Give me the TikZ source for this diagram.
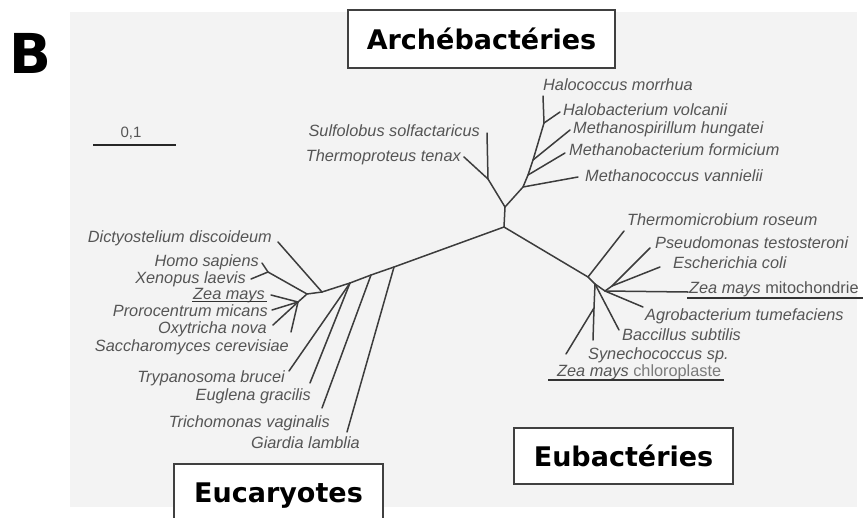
\documentclass[tikz,border=0pt]{standalone}
\usepackage{fontspec}
\setmainfont{Liberation Sans}
\newfontfamily\boxfont{DejaVu Sans}
\usetikzlibrary{calc}
\definecolor{panel}{HTML}{F3F3F3}
\definecolor{branch}{HTML}{3C3C3C}
\definecolor{lab}{HTML}{555555}
\definecolor{lablight}{HTML}{7A7A7A}
\begin{document}
\begin{tikzpicture}[x=1pt,y=-1pt,
  br/.style={draw=branch, line width=1.5pt, line cap=round, line join=round},
  spL/.style={anchor=base west, inner sep=0pt, yshift=-5.5pt, font=\fontsize{16.3}{18}\selectfont\itshape, text=lab},
  spR/.style={spL, anchor=base east},
  uline/.style={draw=black!80, line width=1.2pt},
  grpbox/.style={draw=black!75, line width=1.6pt, fill=white, font=\boxfont\bfseries\fontsize{27}{30}\selectfont, text height=20pt, text depth=0pt, inner sep=0pt}
]
\useasboundingbox (0,0) rectangle (867,517);
\fill[panel] (70,12) rectangle (857,507);

% panel letter
\node[font=\boxfont\bfseries\fontsize{55}{60}\selectfont, anchor=base, inner sep=0pt] (lblB) at (30,73) {B};

% group boxes
\node[grpbox, minimum width=267pt, minimum height=58pt] (arch) at (481.5,39) {Archébactéries};
\node[grpbox, minimum width=209pt, minimum height=56pt] (euc) at (278.5,492) {Eucaryotes};
\node[grpbox, minimum width=219pt, minimum height=56pt] (eub) at (623.5,456) {Eubactéries};

% scale bar
\coordinate (s0) at (93,145);
\coordinate (s1) at (176,145);
\draw[black!85, line width=1.5pt] (s0) -- (s1);
\node[font=\fontsize{15}{18}\selectfont, text=lab, anchor=base, inner sep=0pt] (sbl) at (131,137.5) {0,1};

% ---------- tree ----------
\coordinate (C) at (504,227);
% archaea
\coordinate (A0) at (505,207);
\coordinate (A1) at (488,179);
\coordinate (tSulf) at (487,133);
\coordinate (tTher) at (464,157);
\coordinate (A2) at (523,187);
\coordinate (A3) at (528,175);
\coordinate (A4) at (533,160);
\coordinate (A5) at (544,123);
\coordinate (tMcoc) at (578,177);
\coordinate (tMbac) at (565,153);
\coordinate (tMspi) at (570,130);
\coordinate (tHcoc) at (543,96);
\coordinate (tHbac) at (560,112);
\draw[br] (C) -- (A0) -- (A1) -- (tSulf);
\draw[br] (A1) -- (tTher);
\draw[br] (A0) -- (A2) -- (A3) -- (A4) -- (A5) -- (tHcoc);
\draw[br] (A5) -- (tHbac);
\draw[br] (A4) -- (tMspi);
\draw[br] (A3) -- (tMbac);
\draw[br] (A2) -- (tMcoc);

% eukaryotes
\coordinate (E0) at (394,267);
\coordinate (E1) at (371,275);
\coordinate (E2) at (350,283);
\coordinate (Er) at (322,292);
\coordinate (tGiar) at (347,432);
\coordinate (tTric) at (322,408);
\coordinate (tTryp) at (289,371);
\coordinate (tEugl) at (310,383);
\coordinate (tDict) at (278,242);
\coordinate (eA) at (307,294);
\coordinate (HX) at (268,272);
\coordinate (tHomo) at (262,263);
\coordinate (tXeno) at (251,279);
\coordinate (eB) at (298,302);
\coordinate (tZea) at (271,295);
\coordinate (tPror) at (272,310);
\coordinate (tOxy) at (273,325);
\coordinate (tSacc) at (291,332);
\draw[br] (C) -- (E0) -- (E1) -- (E2) -- (Er);
\draw[br] (E0) -- (tGiar);
\draw[br] (E1) -- (tTric);
\draw[br] (E2) -- (tTryp);
\draw[br] (E2) -- (tEugl);
\draw[br] (Er) -- (tDict);
\draw[br] (Er) -- (eA) -- (HX) -- (tHomo);
\draw[br] (HX) -- (tXeno);
\draw[br] (eA) -- (eB) -- (tZea);
\draw[br] (eB) -- (tPror);
\draw[br] (eB) -- (tOxy);
\draw[br] (eB) -- (tSacc);

% eubacteria
\coordinate (B1) at (588,277);
\coordinate (tTherm) at (624,231);
\coordinate (B2) at (595,284);
\coordinate (Bs) at (594,308);
\coordinate (tSyne) at (593,340);
\coordinate (tChlo) at (566,354);
\coordinate (tBacc) at (619,330);
\coordinate (B3) at (605,291);
\coordinate (tMito) at (688,292);
\coordinate (tAgro) at (643,307);
\coordinate (B4) at (612,286);
\coordinate (tPseu) at (650,248);
\coordinate (tEcol) at (660,267);
\draw[br] (C) -- (B1) -- (tTherm);
\draw[br] (B1) -- (B2) -- (Bs) -- (tSyne);
\draw[br] (Bs) -- (tChlo);
\draw[br] (B2) -- (tBacc);
\draw[br] (B2) -- (B3) -- (tMito);
\draw[br] (B3) -- (tAgro);
\draw[br] (B3) -- (B4) -- (tPseu);
\draw[br] (B4) -- (tEcol);

% ---------- labels ----------
% archaea
\node[spR] (sulf) at (480,131) {Sulfolobus solfactaricus};
\node[spR] (therp) at (461,156) {Thermoproteus tenax};
\node[spL] (halcoc) at (543,85) {Halococcus morrhua};
\node[spL] (halbac) at (563,110) {Halobacterium volcanii};
\node[spL] (mspir) at (573,128) {Methanospirillum hungatei};
\node[spL] (mbact) at (569,150) {Methanobacterium formicium};
\node[spL] (mcoc) at (585,176) {Methanococcus vannielii};

% eukaryotes
\node[spR] (dicty) at (272,237) {Dictyostelium discoideum};
\node[spR] (homo) at (259,261) {Homo sapiens};
\node[spR] (xeno) at (246,278) {Xenopus laevis};
\node[spR] (zeaE) at (265,294) {Zea mays};
\node[spR] (proro) at (268,311) {Prorocentrum micans};
\node[spR] (oxy) at (267,328) {Oxytricha nova};
\node[spR] (sacch) at (289,346) {Saccharomyces cerevisiae};
\node[spR] (trypa) at (285,377) {Trypanosoma brucei};
\node[spR] (eugl) at (311,395) {Euglena gracilis};
\node[spR] (trich) at (330,422) {Trichomonas vaginalis};
\node[spR] (giard) at (360,443) {Giardia lamblia};

% eubacteria
\node[spL] (therm) at (627,220) {Thermomicrobium roseum};
\node[spL] (pseu) at (655,243) {Pseudomonas testosteroni};
\node[spL] (ecol) at (673,263) {Escherichia coli};
\node[spL] (zeaM) at (689,288) {Zea mays {\upshape mitochondrie}};
\node[spL] (agro) at (645,315) {Agrobacterium tumefaciens};
\node[spL] (bacc) at (622,335) {Baccillus subtilis};
\node[spL] (syne) at (588,354) {Synechococcus sp.};
\node[spL] (zeaC) at (557,371) {Zea mays {\upshape\color{lablight}chloroplaste}};

% underlines
\draw[uline] ($(zeaE.base west)+(-1,2)$) -- ($(zeaE.base east)+(2,2)$);
\draw[uline] ($(zeaM.base west)+(-2,4.5)$) -- ($(zeaM.base east)+(4,4.5)$);
\draw[uline] ($(zeaC.base west)+(-9,3.5)$) -- ($(zeaC.base east)+(3,3.5)$);
\end{tikzpicture}
\end{document}
